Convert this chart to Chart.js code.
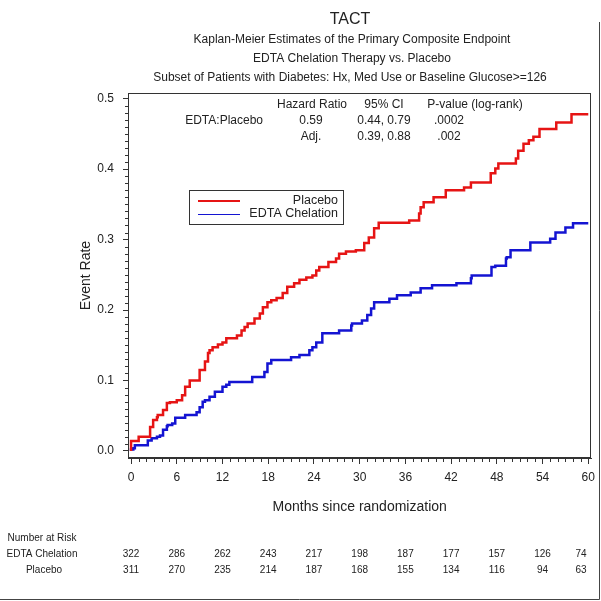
<!DOCTYPE html>
<html>
<head>
<meta charset="utf-8">
<script src="https://cdn.jsdelivr.net/npm/chart.js@4.4.1/dist/chart.umd.min.js"></script>
<style>
  html, body { margin: 0; padding: 0; background: #fff; }
  canvas { display: block; }
</style>
</head>
<body>
<canvas id="km" width="601" height="601"></canvas>
<script>
const titleLines = [
  'TACT',
  'Kaplan-Meier Estimates of the Primary Composite Endpoint',
  'EDTA Chelation Therapy vs. Placebo',
  'Subset of Patients with Diabetes: Hx, Med Use or Baseline Glucose>=126'
];

// step curves (months, cumulative event rate)
const placeboMonths = [0, 1.0, 2.5, 2.9, 3.4, 3.5, 4.2, 4.7, 5.1, 6.0, 6.7, 7.1, 7.7, 9.0, 9.7, 10.1, 10.3, 10.7, 11.4, 12.0,
  12.5, 13.9, 14.5, 14.9, 15.3, 16.2, 16.9, 17.3, 17.9, 18.4, 19.1, 19.9, 20.5, 21.4, 22.1, 23.0, 23.8, 24.3, 24.7, 25.9,
  26.9, 27.3, 28.2, 29.5, 30.6, 31.2, 31.9, 32.5, 36.5, 37.8, 38.0, 38.4, 39.7, 41.3, 43.7, 44.6, 47.2, 47.8, 48.2, 50.5,
  50.8, 51.5, 52.2, 52.8, 53.6, 55.8, 57.8, 58.7, 60.0];
const placeboRate = [0, 0.014, 0.020, 0.034, 0.044, 0.048, 0.051, 0.058, 0.068, 0.069, 0.072, 0.079, 0.091, 0.100, 0.115, 0.127, 0.139, 0.143, 0.147, 0.151,
  0.154, 0.160, 0.164, 0.171, 0.176, 0.181, 0.188, 0.195, 0.204, 0.211, 0.214, 0.217, 0.224, 0.233, 0.238, 0.243, 0.246, 0.249, 0.256, 0.261,
  0.268, 0.273, 0.280, 0.283, 0.285, 0.295, 0.303, 0.316, 0.324, 0.327, 0.337, 0.346, 0.353, 0.360, 0.370, 0.374, 0.381, 0.394, 0.401, 0.408,
  0.415, 0.426, 0.436, 0.441, 0.446, 0.457, 0.466, 0.478, 0.478];

const edtaMonths = [0, 0.3, 0.5, 2.2, 2.7, 3.4, 3.8, 4.2, 4.7, 4.8, 5.4, 5.8, 7.1, 8.6, 9.0, 9.4, 9.7, 10.3, 11.0, 12.0,
  12.5, 12.9, 15.9, 17.5, 17.9, 18.4, 21.0, 22.1, 23.4, 23.8, 24.3, 25.1, 27.3, 28.9, 29.0, 30.3, 31.0, 31.5, 31.9, 33.9,
  34.9, 36.7, 38.0, 39.5, 42.7, 44.6, 44.7, 47.3, 47.8, 49.2, 49.3, 49.8, 52.4, 55.0, 55.7, 57.0, 58.0, 59.1, 60.0];
const edtaRate = [0, 0.002, 0.004, 0.008, 0.015, 0.018, 0.020, 0.022, 0.030, 0.035, 0.037, 0.039, 0.047, 0.051, 0.055, 0.062, 0.070, 0.072, 0.077, 0.084,
  0.091, 0.094, 0.098, 0.105, 0.112, 0.124, 0.129, 0.133, 0.136, 0.143, 0.147, 0.154, 0.167, 0.171, 0.178, 0.181, 0.185, 0.193, 0.202, 0.211,
  0.216, 0.221, 0.225, 0.231, 0.235, 0.238, 0.245, 0.249, 0.261, 0.263, 0.273, 0.275, 0.285, 0.296, 0.301, 0.310, 0.317, 0.323, 0.323];

const xTicks = [0, 6, 12, 18, 24, 30, 36, 42, 48, 54, 60];
const yTicks = [0, 0.1, 0.2, 0.3, 0.4, 0.5];

const edtaAtRisk = [322, 286, 262, 243, 217, 198, 187, 177, 157, 126, 74];
const placeboAtRisk = [311, 270, 235, 214, 187, 168, 155, 134, 116, 94, 63];

const hrHeader = ['Hazard Ratio', '95% CI', 'P-value (log-rank)'];
const hrRows = [
  ['EDTA:Placebo', '0.59', '0.44, 0.79', '.0002'],
  ['', 'Adj.', '0.39, 0.88', '.002']
];

const FONT = '"Liberation Sans", Arial, sans-serif';
const INK = '#222';

function toPoints(xs, ys) {
  return xs.map((m, i) => ({ x: m, y: ys[i] }));
}

const decorations = {
  id: 'decorations',
  afterDraw(chart) {
    const { ctx, chartArea: a, scales: { x, y } } = chart;
    ctx.save();
    ctx.strokeStyle = '#333';
    ctx.lineWidth = 1;
    ctx.strokeRect(Math.round(a.left) + 0.5, Math.round(a.top) + 0.5,
      Math.round(a.right - a.left) - 1, Math.round(a.bottom - a.top) - 1);

    // minor ticks
    ctx.beginPath();
    for (let m = 1; m < 60; m++) {
      if (m % 6 === 0) continue;
      const px = Math.round(x.getPixelForValue(m)) + 0.5;
      ctx.moveTo(px, a.bottom);
      ctx.lineTo(px, a.bottom + 4);
    }
    for (let i = 1; i < 50; i++) {
      if (i % 10 === 0) continue;
      const py = Math.round(y.getPixelForValue(i / 100)) + 0.5;
      ctx.moveTo(a.left - 3, py);
      ctx.lineTo(a.left, py);
    }
    ctx.stroke();

    // titles
    ctx.fillStyle = INK;
    ctx.textAlign = 'center';
    ctx.textBaseline = 'middle';
    ctx.font = '16px ' + FONT;
    ctx.fillText(titleLines[0], 350, 20);
    ctx.font = '12px ' + FONT;
    ctx.fillText(titleLines[1], 352, 40);
    ctx.fillText(titleLines[2], 352, 59);
    ctx.fillText(titleLines[3], 350, 78);

    // axis titles
    ctx.font = '14px ' + FONT;
    ctx.fillText('Months since randomization', (a.left + a.right) / 2, 507);
    ctx.save();
    ctx.translate(86, (a.top + a.bottom) / 2);
    ctx.rotate(-Math.PI / 2);
    ctx.fillText('Event Rate', 0, 0);
    ctx.restore();

    // hazard ratio table
    ctx.font = '12px ' + FONT;
    const hx = [312, 384, 475];
    hrHeader.forEach((t, i) => ctx.fillText(t, hx[i], 105));
    const cx = [263, 311, 384, 449];
    hrRows.forEach((row, r) => {
      const ry = 121 + r * 16;
      row.forEach((t, i) => {
        ctx.textAlign = i === 0 ? 'right' : 'center';
        ctx.fillText(t, cx[i], ry);
      });
    });

    // legend box
    const lb = { left: 189, top: 190, right: 343, bottom: 224 };
    ctx.strokeStyle = '#333';
    ctx.lineWidth = 1;
    ctx.strokeRect(lb.left + 0.5, lb.top + 0.5, lb.right - lb.left, lb.bottom - lb.top);
    ctx.font = '12.5px ' + FONT;
    ctx.textAlign = 'right';
    chart.data.datasets.forEach((ds, i) => {
      const ly = 201 + i * 13;
      ctx.strokeStyle = ds.borderColor;
      ctx.lineWidth = i === 0 ? 2 : 1;
      ctx.beginPath();
      ctx.moveTo(198, i === 0 ? ly : ly + 0.5);
      ctx.lineTo(240, i === 0 ? ly : ly + 0.5);
      ctx.stroke();
      ctx.fillStyle = INK;
      ctx.fillText(ds.label, 338, ly);
    });

    // number at risk
    ctx.font = '10px ' + FONT;
    ctx.textAlign = 'center';
    ctx.fillText('Number at Risk', 42, 538);
    ctx.fillText('EDTA Chelation', 42, 554);
    ctx.fillText('Placebo', 44, 570);
    xTicks.forEach((m, i) => {
      const px = Math.min(x.getPixelForValue(m), 581);
      ctx.fillText(String(edtaAtRisk[i]), px, 554);
      ctx.fillText(String(placeboAtRisk[i]), px, 570);
    });

    // outer frame
    ctx.strokeStyle = '#444';
    ctx.beginPath();
    ctx.moveTo(599.5, 22);
    ctx.lineTo(599.5, 599.5);
    ctx.lineTo(0, 599.5);
    ctx.stroke();
    ctx.restore();
  }
};

new Chart(document.getElementById('km'), {
  type: 'line',
  data: {
    datasets: [
      {
        label: 'Placebo',
        data: toPoints(placeboMonths, placeboRate),
        borderColor: 'rgb(230,20,20)',
        borderWidth: 2.5,
        stepped: 'after',
        pointRadius: 0,
        fill: false
      },
      {
        label: 'EDTA Chelation',
        data: toPoints(edtaMonths, edtaRate),
        borderColor: 'rgb(20,20,210)',
        borderWidth: 2.5,
        stepped: 'after',
        pointRadius: 0,
        fill: false
      }
    ]
  },
  options: {
    responsive: false,
    animation: false,
    layout: { padding: { left: 88, right: 8, top: 93, bottom: 113 } },
    plugins: {
      legend: { display: false },
      title: { display: false },
      tooltip: { enabled: false }
    },
    scales: {
      x: {
        type: 'linear',
        min: -0.4,
        max: 60.4,
        afterBuildTicks: s => { s.ticks = xTicks.map(v => ({ value: v })); },
        afterFit: s => { s.height = 30; },
        grid: { drawOnChartArea: false, tickLength: 6, tickColor: '#333' },
        border: { color: '#333' },
        ticks: { color: INK, font: { family: FONT, size: 12 }, padding: 6, maxRotation: 0, autoSkip: false }
      },
      y: {
        type: 'linear',
        min: -0.01,
        max: 0.508,
        afterBuildTicks: s => { s.ticks = yTicks.map(v => ({ value: v })); },
        afterFit: s => { s.width = 40; },
        grid: { drawOnChartArea: false, tickLength: 5, tickColor: '#333' },
        border: { color: '#333' },
        ticks: { color: INK, font: { family: FONT, size: 12 }, padding: 9, callback: v => v.toFixed(1) }
      }
    }
  },
  plugins: [decorations]
});
</script>
</body>
</html>
